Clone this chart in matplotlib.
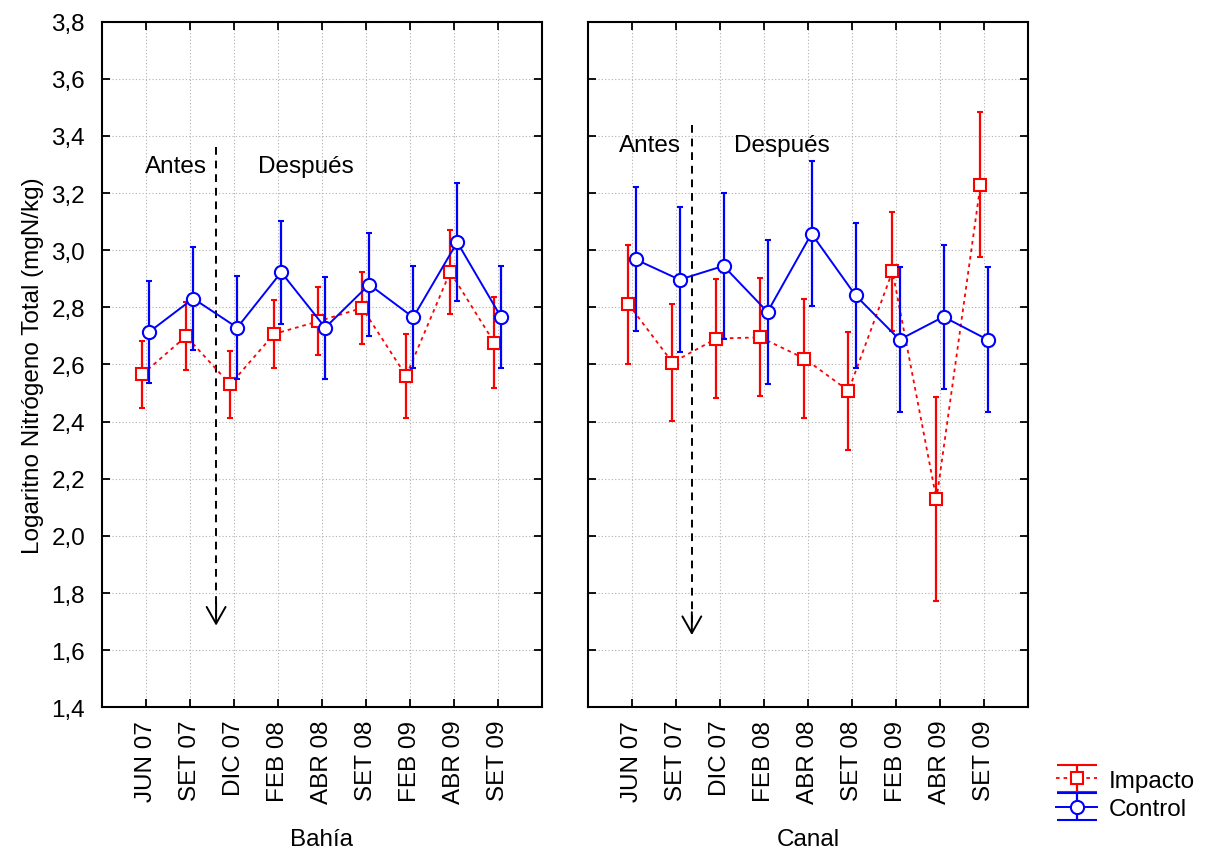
import numpy as np
import matplotlib
matplotlib.use("Agg")
import matplotlib.pyplot as plt
from matplotlib.legend_handler import HandlerErrorbar
from matplotlib.lines import Line2D

plt.rcParams["font.family"] = ["Liberation Sans", "DejaVu Sans"]
plt.rcParams["font.size"] = 17.5

MONTHS = ["JUN 07", "SET 07", "DIC 07", "FEB 08", "ABR 08",
          "SET 08", "FEB 09", "ABR 09", "SET 09"]

# Bahía
bahia_control = [2.714, 2.831, 2.729, 2.923, 2.729, 2.880, 2.765, 3.028, 2.765]
bahia_control_err = [0.179, 0.180, 0.180, 0.180, 0.179, 0.179, 0.179, 0.207, 0.179]
bahia_impacto = [2.565, 2.699, 2.530, 2.707, 2.751, 2.798, 2.560, 2.924, 2.677]
bahia_impacto_err = [0.119, 0.119, 0.118, 0.119, 0.119, 0.126, 0.147, 0.146, 0.160]

# Canal
canal_control = [2.968, 2.897, 2.945, 2.784, 3.058, 2.842, 2.687, 2.767, 2.687]
canal_control_err = [0.252, 0.254, 0.254, 0.253, 0.254, 0.253, 0.253, 0.253, 0.253]
canal_impacto = [2.811, 2.607, 2.691, 2.695, 2.621, 2.508, 2.926, 2.128, 3.230]
canal_impacto_err = [0.208, 0.206, 0.207, 0.207, 0.207, 0.207, 0.207, 0.357, 0.254]

Y_TICKS = [1.4, 1.6, 1.8, 2.0, 2.2, 2.4, 2.6, 2.8, 3.0, 3.2, 3.4, 3.6, 3.8]
Y_TICK_LABELS = ["1,4", "1,6", "1,8", "2,0", "2,2", "2,4", "2,6",
                 "2,8", "3,0", "3,2", "3,4", "3,6", "3,8"]

PANELS = [
    {"name": "Bahía", "control": bahia_control, "control_err": bahia_control_err,
     "impacto": bahia_impacto, "impacto_err": bahia_impacto_err,
     "arrow_x": 1.60, "arrow_top": 3.36, "arrow_tip": 1.686,
     "antes": (0.68, 3.294), "despues": (3.64, 3.294)},
    {"name": "Canal", "control": canal_control, "control_err": canal_control_err,
     "impacto": canal_impacto, "impacto_err": canal_impacto_err,
     "arrow_x": 1.36, "arrow_top": 3.44, "arrow_tip": 1.653,
     "antes": (0.41, 3.37), "despues": (3.40, 3.37)},
]


class WideCapHandler(HandlerErrorbar):
    """Errorbar legend glyph with caps as wide as the handle."""
    def create_artists(self, legend, orig_handle, xdescent, ydescent,
                       width, height, fontsize, trans):
        artists = super().create_artists(legend, orig_handle, xdescent, ydescent,
                                         width, height, fontsize, trans)
        for a in artists:
            if isinstance(a, Line2D) and a.get_marker() == "_":
                a.set_markersize(width * 0.95)
        return artists


W, H = 1206, 853
fig = plt.figure(figsize=(W / 100, H / 100), dpi=100)
ax_left = [101.7, 588.0]
x = np.arange(len(MONTHS))
off = 0.08

for i, p in enumerate(PANELS):
    ax = fig.add_axes([ax_left[i] / W, (H - 708.3) / H, 440 / W, 685.6 / H])

    h_imp = ax.errorbar(x - off, p["impacto"], yerr=p["impacto_err"],
                        color="#ff0000", ecolor="#ff0000", elinewidth=1.6,
                        capsize=2, capthick=1.6, lw=1.3, linestyle=(0, (2, 2.2)),
                        marker="s", markersize=9, markerfacecolor="white",
                        markeredgecolor="#ff0000", markeredgewidth=1.5,
                        label="Impacto", zorder=3)
    h_ctl = ax.errorbar(x + off, p["control"], yerr=p["control_err"],
                        color="#0000ff", ecolor="#0000ff", elinewidth=1.6,
                        capsize=2, capthick=1.6, lw=1.4, linestyle="-",
                        marker="o", markersize=9.5, markerfacecolor="white",
                        markeredgecolor="#0000ff", markeredgewidth=1.5,
                        label="Control", zorder=4)

    # before/after divider
    ax.plot([p["arrow_x"], p["arrow_x"]], [p["arrow_top"], p["arrow_tip"] + 0.02],
            color="black", lw=1.4, linestyle=(0, (4, 3)), zorder=2)
    ax.annotate("", xy=(p["arrow_x"], p["arrow_tip"]),
                xytext=(p["arrow_x"], p["arrow_tip"] + 0.08),
                arrowprops=dict(arrowstyle="->,head_width=0.34,head_length=0.6",
                                lw=1.4, color="black",
                                mutation_scale=20, shrinkA=0, shrinkB=0))
    ax.text(*p["antes"], "Antes", ha="center", va="center")
    ax.text(*p["despues"], "Después", ha="center", va="center")

    ax.set_xlim(-1, 9)
    ax.set_ylim(1.4, 3.8)
    ax.set_xticks(x)
    ax.set_xticklabels(MONTHS, rotation=90)
    ax.set_yticks(Y_TICKS)
    if i == 0:
        ax.set_yticklabels(Y_TICK_LABELS)
        ax.set_ylabel("Logaritno Nitrógeno Total (mgN/kg)", labelpad=5)
    else:
        ax.set_yticklabels([])
    ax.set_xlabel(p["name"], labelpad=18)
    ax.tick_params(direction="in", top=True, right=True, length=6, width=1.3,
                   pad=12)
    ax.tick_params(axis="x", pad=9)
    ax.grid(True, linestyle=(0, (1, 2)), color="#b0b0b0", lw=0.8)
    ax.set_axisbelow(True)
    for s in ax.spines.values():
        s.set_linewidth(1.5)

fig.legend([h_imp, h_ctl], ["Impacto", "Control"], loc="center left",
           bbox_to_anchor=(1056 / W, 1 - 796 / H), frameon=False,
           borderaxespad=0, borderpad=0,
           handlelength=1.7, handletextpad=0.45, labelspacing=0.25,
           handler_map={type(h_imp): WideCapHandler(yerr_size=0.55)})

fig.savefig("out.png", dpi=100)
